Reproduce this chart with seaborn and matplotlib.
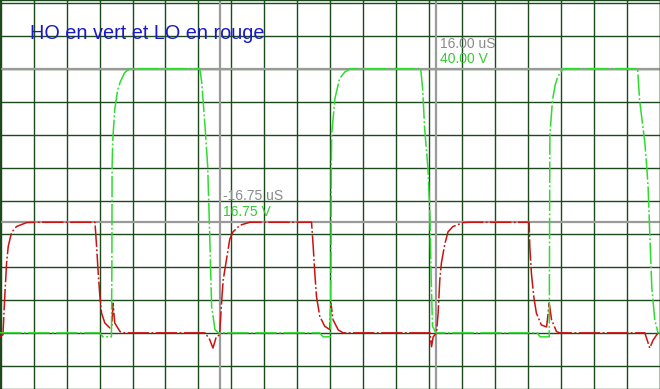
import matplotlib
matplotlib.use("Agg")
import matplotlib.pyplot as plt
import seaborn as sns
import numpy as np

# ---- data (time in microseconds, voltage in volts) ----
ho_t = [-50.1, -34.95, -34.5, -33.2, -33.13, -33.1, -33.0, -32.7, -32.3, -31.9, -31.2, -30.4,
        -19.8, -19.5, -19.0, -18.6, -18.3, -18.0, -17.5, -17.0,
        -1.6, -1.1, 0.0, 0.1, 0.15, 0.2, 0.7, 1.4, 2.2, 3.0,
        13.7, 14.0, 14.3, 14.8, 15.1, 15.3, 15.5, 16.0,
        31.4, 31.8, 33.2, 33.25, 33.3, 33.7, 34.1, 34.5, 35.3,
        46.6, 46.9, 47.7, 48.0, 48.2, 48.45, 48.75, 49.2, 49.7, 50.0]
ho_v = [0, 0, -0.6, -0.6, 10, 25, 29.2, 33.8, 36.5, 37.9, 39.4, 40,
        40, 37.9, 31.2, 25.2, 15, 4, 0.5, 0,
        0, -0.6, -0.6, 10, 25, 30, 35.5, 38.5, 39.5, 40,
        40, 37, 31, 25, 18, 8, 1, 0,
        0, -0.6, -0.6, 15, 30, 35.3, 37.5, 38.8, 40,
        40, 35.3, 28.8, 25, 22, 15, 7, 2, 0, 0]

lo_t = [-50.1, -49.65, -49.5, -49.35, -49.1, -48.85, -48.35, -47.6, -46.05, -44.8,
        -35.7, -35.45, -35.2, -34.95, -34.7, -34.2, -33.45, -33.15, -32.95, -32.7, -31.9, -31.2,
        -19.0, -18.3, -17.8, -17.3, -16.8, -16.5, -16.25, -15.75, -15.25, -14.75, -13.7, -12.2,
        -2.85, -2.6, -2.35, -2.1, -1.6, -0.85, -0.1, 0.1, 0.4, 1.2, 1.95,
        15.1, 15.35, 15.6, 16.1, 16.35, 16.6, 16.85, 17.35, 17.85, 18.6, 20.15, 21.1,
        30.15, 30.25, 30.5, 30.85, 31.25, 32.0, 32.8, 33.2, 33.55, 34.3, 34.8,
        47.7, 48.45, 48.95, 49.7, 50.0]
lo_v = [-0.6, -0.3, 3, 6, 10.6, 13.1, 15.2, 16.1, 16.7, 16.75,
        16.75, 13.1, 9.0, 5.5, 3.0, 1.5, 0.75, 1.0, 4.5, 1.5, 0.2, 0,
        0, -1.0, -2.3, -0.6, -0.3, 4.5, 8, 11.1, 14.2, 15.3, 16.3, 16.75,
        16.75, 13.1, 9.0, 5.5, 2.5, 1.0, 0.5, 4.5, 2.0, 0.45, 0,
        0, -2.1, -0.6, 0, 3.0, 8.0, 10.6, 13.4, 15.3, 16.1, 16.7, 16.75,
        16.75, 13.1, 9.0, 5.5, 3.0, 1.2, 0.9, 4.5, 2.0, 0.2, 0,
        0, -2.3, -1.1, 0, 0]

cursor_t = [-16.75, 16.00]
cursor_v = [16.75, 40.00]
title = "HO en vert et LO en rouge"

# ---- figure ----
sns.set_style("white")
plt.rcParams['font.family'] = ['Liberation Sans', 'DejaVu Sans']

fig = plt.figure(figsize=(6.6, 3.89), dpi=100)
ax = fig.add_axes([0, 0, 1, 1])
ax.set_xlim(-50.1, 49.98)
ax.set_ylim(-8.5, 50.4)

ax.set_xticks(np.arange(-50, 51, 5))
ax.set_yticks(np.arange(-5, 51, 5))
ax.grid(True, color="#1d4a1d", linewidth=1.0)
ax.tick_params(length=0, labelbottom=False, labelleft=False)
for s in ax.spines.values():
    s.set_color("#1d4a1d")
    s.set_linewidth(1.0)
ax.set_axisbelow(True)

for t in cursor_t:
    ax.axvline(t, color="#9a9a9a", linewidth=1.6, zorder=1.5)
for v in cursor_v:
    ax.axhline(v, color="#9a9a9a", linewidth=1.6, zorder=1.5)

dash = (0, (14, 1.6, 1.2, 1.6))
sns.lineplot(x=lo_t, y=lo_v, estimator=None, sort=False, color="#cc1111",
             linewidth=1.1, linestyle=dash, ax=ax, zorder=3)
sns.lineplot(x=ho_t, y=ho_v, estimator=None, sort=False, color="#2edc2e",
             linewidth=1.1, linestyle=dash, ax=ax, zorder=3)
ax.set_xlabel("")
ax.set_ylabel("")

ax.text(30 / 660, 1 - 39 / 389, title, transform=ax.transAxes, color="#1a1ac4",
        fontsize=14.3, va="baseline", ha="left")

ax.text(440 / 660, 1 - 48 / 389, "16.00 uS", transform=ax.transAxes, color="#8a8a8a",
        fontsize=10, va="baseline", ha="left")
ax.text(440 / 660, 1 - 63 / 389, "40.00 V", transform=ax.transAxes, color="#33cc33",
        fontsize=10, va="baseline", ha="left")
ax.text(223 / 660, 1 - 200 / 389, "-16.75 uS", transform=ax.transAxes, color="#8a8a8a",
        fontsize=10, va="baseline", ha="left")
ax.text(223 / 660, 1 - 216 / 389, "16.75 V", transform=ax.transAxes, color="#33cc33",
        fontsize=10, va="baseline", ha="left")

fig.savefig("out.png", dpi=100)
